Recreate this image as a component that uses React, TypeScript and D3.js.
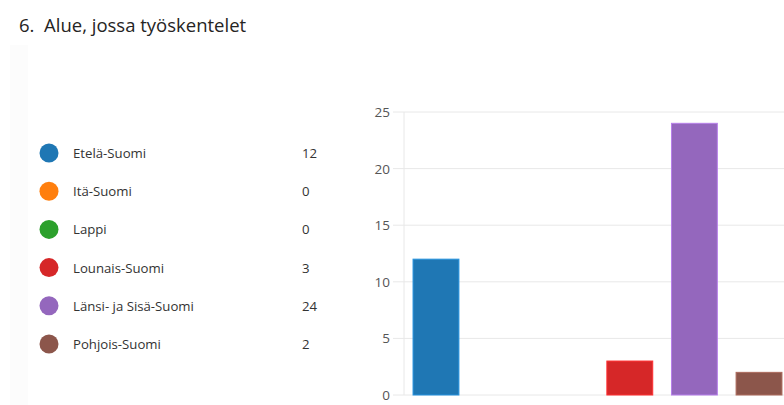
import React from "react";
import * as d3 from "d3";

const categories = ["Etelä-Suomi", "Itä-Suomi", "Lappi", "Lounais-Suomi", "Länsi- ja Sisä-Suomi", "Pohjois-Suomi"];
const counts = [12, 0, 0, 3, 24, 2];
const colors = ["#1f77b4", "#ff7f0e", "#2ca02c", "#d62728", "#9467bd", "#8c564b"];
const yTicks = [0, 5, 10, 15, 20, 25];
const title = "6.  Alue, jossa työskentelet";

const W = 784;
const H = 405;
const FONT = "'Open Sans', 'Noto Sans', sans-serif";

export default function App() {
  const x = d3
    .scaleBand<string>()
    .domain(categories)
    .range([404, 791])
    .paddingInner(0.29)
    .paddingOuter(0.14);
  const y = d3.scaleLinear().domain([0, 25]).range([395, 112]);

  const legendY = d3.scalePoint<string>().domain(categories).range([153, 344]);

  return (
    <svg
      width={W}
      height={H}
      style={{ position: "fixed", left: 0, top: 0, background: "#fff" }}
      fontFamily={FONT}
    >
      <rect x={0} y={0} width={W} height={H} fill="#fff" />
      <rect x={10} y={45} width={18} height={H - 45} fill="#fcfcfc" />
      <text x={19} y={32} fontSize={18.5} fill="#252423" style={{ whiteSpace: "pre" }}>
        {title}
      </text>

      {/* legend */}
      {categories.map((c, i) => (
        <g key={c}>
          <circle cx={49} cy={legendY(c)!} r={9.5} fill={colors[i]} />
          <text x={73} y={legendY(c)! + 5} fontSize={13.2} fill="#333">
            {c}
          </text>
          <text x={302} y={legendY(c)! + 5} fontSize={13.2} fill="#333">
            {counts[i]}
          </text>
        </g>
      ))}

      {/* grid + ticks */}
      {yTicks.map((t) => (
        <g key={t}>
          <line x1={393} x2={W} y1={y(t)} y2={y(t)} stroke="#e8e8e8" strokeWidth={1} />
          <text x={390} y={y(t) + 5} fontSize={13.5} fill="#555" textAnchor="end">
            {t}
          </text>
        </g>
      ))}
      <line x1={404} x2={404} y1={y(25)} y2={y(0)} stroke="#e8e8e8" strokeWidth={1} />

      {/* bars */}
      {categories.map((c, i) =>
        counts[i] > 0 ? (
          <rect
            key={c}
            x={x(c)!}
            y={y(counts[i])}
            width={x.bandwidth()}
            height={y(0) - y(counts[i])}
            fill={colors[i]}
            stroke={d3.color(colors[i])!.brighter(0.6).toString()}
            strokeWidth={1}
          />
        ) : null
      )}
    </svg>
  );
}
